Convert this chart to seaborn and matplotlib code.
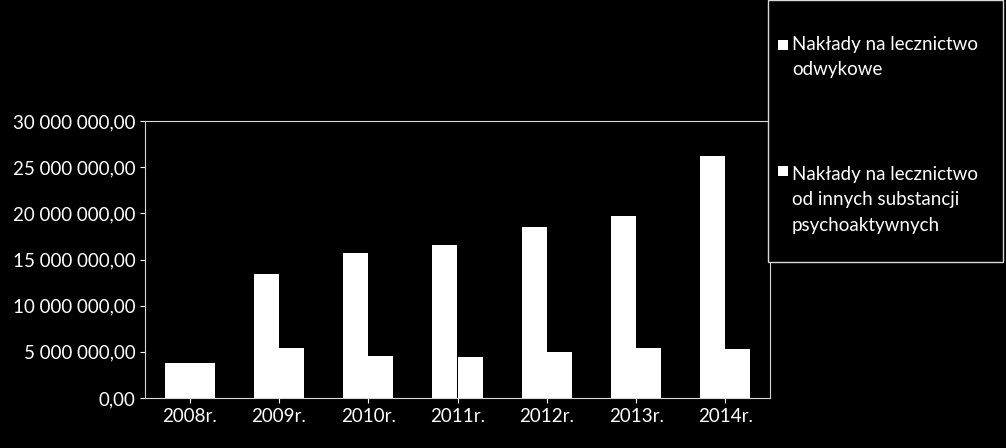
import matplotlib
matplotlib.use("Agg")
import matplotlib.pyplot as plt
import seaborn as sns
import pandas as pd
from matplotlib.patches import Rectangle
from matplotlib.ticker import FuncFormatter, MultipleLocator

years = ["2008r.", "2009r.", "2010r.", "2011r.", "2012r.", "2013r.", "2014r."]
odwykowe = [3800000, 13400000, 15700000, 16600000, 18500000, 19700000, 26200000]
inne = [3800000, 5400000, 4500000, 4400000, 5000000, 5400000, 5300000]
s1 = "Nakłady na lecznictwo\nodwykowe"
s2 = "Nakłady na lecznictwo\nod innych substancji\npsychoaktywnych"

df = pd.DataFrame({"rok": years * 2, "v": odwykowe + inne,
                   "s": [s1] * 7 + [s2] * 7})

plt.rcParams["font.family"] = "Lato"
fig = plt.figure(figsize=(10.06, 4.48), dpi=100, facecolor="black")
ax = fig.add_axes([145/1006, 1-398/448, 625/1006, 277/448], facecolor="black")
sns.barplot(data=df, x="rok", y="v", hue="s", palette=["white", "white"],
            width=0.56, ax=ax, legend=False, saturation=1, edgecolor="none")
ax.set_ylim(0, 30000000)
ax.set_xlim(-0.5, 6.5)
ax.yaxis.set_major_locator(MultipleLocator(5000000))
def fmt(v, p):
    s = f"{int(round(v)):,}".replace(",", " ")
    return s + ",00"
ax.yaxis.set_major_formatter(FuncFormatter(fmt))
ax.set_xlabel(""); ax.set_ylabel("")
for sp in ax.spines.values():
    sp.set_color("#d9d9d9")
ax.tick_params(colors="white", labelsize=13.5)
for lab in ax.get_xticklabels() + ax.get_yticklabels():
    lab.set_color("white")

fig.patches.append(Rectangle((768/1006, 1-262/448), 235/1006, 262/448,
                             transform=fig.transFigure, facecolor="black",
                             edgecolor="#d9d9d9", lw=1))
fig.patches.append(Rectangle((778/1006, 1-50/448), 10/1006, 10/448,
                             transform=fig.transFigure, facecolor="white", edgecolor="none"))
fig.patches.append(Rectangle((778/1006, 1-176/448), 10/1006, 10/448,
                             transform=fig.transFigure, facecolor="white", edgecolor="none"))
fig.text(792/1006, 1-57/448, s1, color="white", fontsize=13.5, va="center",
         ha="left", linespacing=1.6)
fig.text(792/1006, 1-200/448, s2, color="white", fontsize=13.5, va="center",
         ha="left", linespacing=1.6)
fig.savefig("out.png", dpi=100, facecolor="black")
